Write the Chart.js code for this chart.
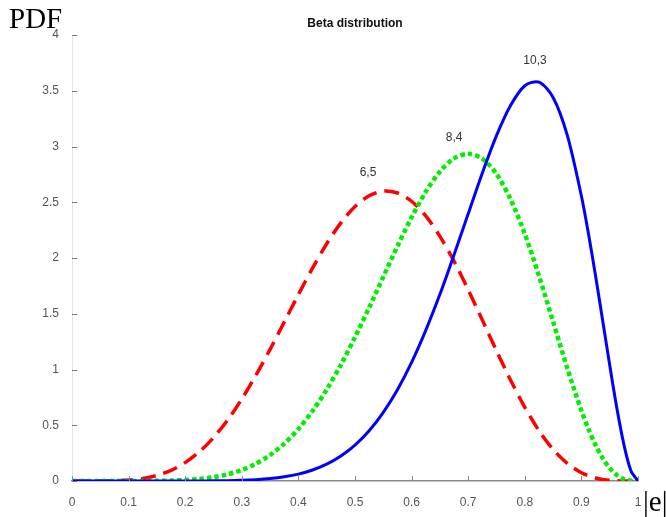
<!DOCTYPE html>
<html>
<head>
<meta charset="utf-8">
<script src="https://cdn.jsdelivr.net/npm/chart.js@4.4.0/dist/chart.umd.min.js"></script>
<style>
  html, body { margin: 0; padding: 0; background: #ffffff; }
  #wrap { width: 666px; height: 517px; position: relative; }
</style>
</head>
<body>
<div id="wrap"><canvas id="chartBeta"></canvas></div>
<script>
// valores
const xVals = [0, 0.025, 0.05, 0.075, 0.1, 0.125, 0.15, 0.175, 0.2, 0.225, 0.25, 0.275, 0.3, 0.325, 0.35, 0.375, 0.4, 0.425, 0.45, 0.475, 0.5,
  0.525, 0.55, 0.575, 0.6, 0.625, 0.65, 0.675, 0.7, 0.725, 0.75, 0.775, 0.8, 0.825, 0.85, 0.875, 0.9,
  0.9125, 0.925, 0.9375, 0.95, 0.9625, 0.975, 0.9875, 1];

const beta65 = [0, 0, 0.0003, 0.0022, 0.0083, 0.0226, 0.05, 0.0958, 0.165, 0.262, 0.389, 0.547, 0.735, 0.949, 1.181, 1.426, 1.672, 1.91, 2.128, 2.315, 2.462,
  2.558, 2.601, 2.583, 2.509, 2.377, 2.194, 1.971, 1.715, 1.443, 1.168, 0.903, 0.661, 0.452, 0.283, 0.158, 0.074,
  0.0467, 0.027, 0.0139, 0.006, 0.0021, 0.0004, 0, 0];

const beta84 = [0, 0, 0, 0, 0.0001, 0.0004, 0.0014, 0.0037, 0.0087, 0.018, 0.034, 0.06, 0.099, 0.156, 0.233, 0.336, 0.467, 0.628, 0.821, 1.042, 1.29,
  1.555, 1.832, 2.106, 2.365, 2.594, 2.774, 2.894, 2.934, 2.89, 2.753, 2.524, 2.216, 1.84, 1.429, 1.013, 0.631,
  0.466, 0.323, 0.205, 0.115, 0.053, 0.017, 0.0024, 0];

const beta103 = [0, 0, 0, 0, 0, 0, 0, 0, 0.0002, 0.0006, 0.0014, 0.0031, 0.0064, 0.0122, 0.022, 0.038, 0.062, 0.099, 0.151, 0.224, 0.322,
  0.451, 0.616, 0.819, 1.064, 1.351, 1.674, 2.029, 2.396, 2.762, 3.097, 3.369, 3.545, 3.577, 3.44, 3.102, 2.556,
  2.217, 1.84, 1.442, 1.04, 0.658, 0.329, 0.092, 0];

const xTicks = [0, 0.1, 0.2, 0.3, 0.4, 0.5, 0.6, 0.7, 0.8, 0.9, 1];
const yTicks = [0, 0.5, 1, 1.5, 2, 2.5, 3, 3.5, 4];

// etiquetas de las curvas (texto, x, y en unidades de datos)
const curveLabels = ["6,5", "8,4", "10,3"];
const curveLabelX = [0.523, 0.675, 0.818];
const curveLabelY = [2.768, 3.082, 3.773];

const toPoints = (ys) => xVals.map((x, i) => ({ x: x, y: ys[i] }));

// marcas hacia dentro, título y textos sueltos
const extrasPlugin = {
  id: "extras",
  afterDraw(chart) {
    const ctx = chart.ctx;
    const xs = chart.scales.x;
    const ys = chart.scales.y;
    const area = chart.chartArea;

    ctx.save();
    ctx.strokeStyle = "#8a8a8a";
    ctx.lineWidth = 1;
    xTicks.forEach((v) => {
      const px = Math.round(xs.getPixelForValue(v)) + 0.5;
      ctx.beginPath();
      ctx.moveTo(px, area.bottom);
      ctx.lineTo(px, area.bottom - 5);
      ctx.stroke();
    });
    ctx.strokeStyle = "#777777";
    yTicks.forEach((v) => {
      const py = Math.round(ys.getPixelForValue(v)) + 0.5;
      ctx.beginPath();
      ctx.moveTo(area.left, py);
      ctx.lineTo(area.left + 5, py);
      ctx.stroke();
    });

    ctx.fillStyle = "#111111";
    ctx.font = "bold 12px Arial, 'Liberation Sans', sans-serif";
    ctx.textAlign = "center";
    ctx.textBaseline = "middle";
    ctx.fillText("Beta distribution", (area.left + area.right) / 2, 24);

    ctx.fillStyle = "#333333";
    ctx.font = "12px Arial, 'Liberation Sans', sans-serif";
    curveLabels.forEach((t, i) => {
      ctx.fillText(t, xs.getPixelForValue(curveLabelX[i]), ys.getPixelForValue(curveLabelY[i]));
    });

    ctx.fillStyle = "#000000";
    ctx.font = "29px 'Times New Roman', 'Liberation Serif', serif";
    ctx.textAlign = "left";
    ctx.textBaseline = "alphabetic";
    ctx.fillText("PDF", 9, 28);
    ctx.fillText("|e|", 643, 511);
    ctx.restore();
  },
};

const tickFont = { family: "Arial, 'Liberation Sans', sans-serif", size: 12 };

new Chart(document.getElementById("chartBeta").getContext("2d"), {
  type: "line",
  data: {
    datasets: [
      {
        label: "10,3",
        data: toPoints(beta103),
        borderColor: "#0000ff",
        borderWidth: 3,
        pointRadius: 0,
        tension: 0.3,
        fill: false,
      },
      {
        label: "8,4",
        data: toPoints(beta84),
        borderColor: "#00ee00",
        borderWidth: 4.5,
        borderDash: [4.5, 3],
        borderCapStyle: "butt",
        pointRadius: 0,
        tension: 0.3,
        fill: false,
      },
      {
        label: "6,5",
        data: toPoints(beta65),
        borderColor: "#ff0000",
        borderWidth: 3.5,
        borderDash: [15, 8],
        borderCapStyle: "butt",
        pointRadius: 0,
        tension: 0.3,
        fill: false,
      },
    ],
  },
  options: {
    responsive: true,
    maintainAspectRatio: false,
    animation: false,
    layout: { padding: { left: 0, right: 28, top: 35, bottom: 0 } },
    plugins: {
      legend: { display: false },
      tooltip: { enabled: false },
    },
    scales: {
      x: {
        type: "linear",
        min: 0,
        max: 1,
        afterBuildTicks: (scale) => { scale.ticks = xTicks.map((v) => ({ value: v })); },
        afterFit: (scale) => { scale.height = 36; },
        grid: { display: false },
        border: { display: true, color: "#8a8a8a", width: 1.5 },
        ticks: { color: "#555555", font: tickFont, padding: 6, maxRotation: 0, callback: (v) => String(v) },
      },
      y: {
        type: "linear",
        min: 0,
        max: 4,
        afterBuildTicks: (scale) => { scale.ticks = yTicks.map((v) => ({ value: v })); },
        afterFit: (scale) => { scale.width = 72; },
        grid: { display: false },
        border: { display: true, color: "#e4e4e4", width: 1 },
        ticks: { color: "#555555", font: tickFont, padding: 5, callback: (v) => String(v) },
      },
    },
  },
  plugins: [extrasPlugin],
});
</script>
</body>
</html>
